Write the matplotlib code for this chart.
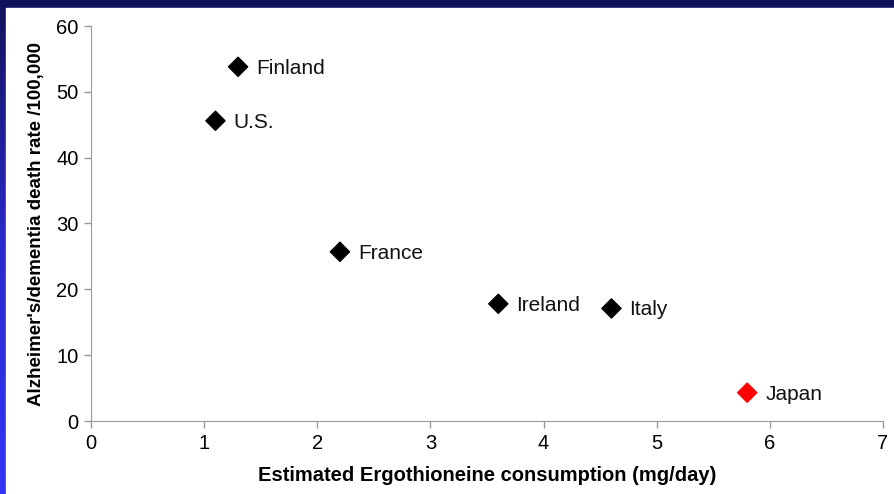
import matplotlib
matplotlib.use("Agg")
import matplotlib.pyplot as plt
import numpy as np
from matplotlib.colors import LinearSegmentedColormap

plt.rcParams['font.family'] = ['Liberation Sans', 'DejaVu Sans']

# Ergothioneine intake vs Alzheimer's/dementia death rate by country
countries = ['Finland', 'U.S.', 'France', 'Ireland', 'Italy', 'Japan']
ergo_mg_day = [1.3, 1.1, 2.2, 3.6, 4.6, 5.8]
death_rate = [53.8, 45.6, 25.7, 17.8, 17.1, 4.3]
point_colors = ['black', 'black', 'black', 'black', 'black', 'red']
x_ticks = [0, 1, 2, 3, 4, 5, 6, 7]
y_ticks = [0, 10, 20, 30, 40, 50, 60]

fig = plt.figure(figsize=(8.95, 4.94), dpi=100)

# slide background: navy top band, blue gradient on the left edge
bg = fig.add_axes([0, 0, 1, 1])
grad = np.linspace(0, 1, 256).reshape(-1, 1)
cmap = LinearSegmentedColormap.from_list('slide', ['#12125a', '#2a2acc', '#3434f8'])
bg.imshow(grad, aspect='auto', cmap=cmap, extent=[0, 1, 1, 0])
bg.add_patch(plt.Rectangle((6 / 895, 0), 1, 1 - 8 / 494, color='white', transform=bg.transAxes))
bg.set_xlim(0, 1)
bg.set_ylim(1, 0)
bg.axis('off')

ax = fig.add_axes([91 / 895, 1 - 421 / 494, 792 / 895, 395 / 494])
ax.patch.set_alpha(0)
ax.scatter(ergo_mg_day, death_rate, marker='D', s=95, c=point_colors, zorder=3, clip_on=False)
for name, x, y in zip(countries, ergo_mg_day, death_rate):
    ax.annotate(name, (x, y), xytext=(13, -1), textcoords='offset points',
                ha='left', va='center', fontsize=15, color='#111111')

ax.set_xlim(0, 7)
ax.set_ylim(0, 60)
ax.set_xticks(x_ticks)
ax.set_yticks(y_ticks)
ax.tick_params(labelsize=14.5, length=5, width=1, color='#999999', pad=4)
for side in ['top', 'right']:
    ax.spines[side].set_visible(False)
for side in ['left', 'bottom']:
    ax.spines[side].set_color('#999999')

ax.set_xlabel('Estimated Ergothioneine consumption (mg/day)', fontsize=14.5, fontweight='bold', labelpad=10)
ax.set_ylabel("Alzheimer's/dementia death rate /100,000", fontsize=13.5, fontweight='bold', labelpad=8)

fig.savefig('out.png', dpi=100)
